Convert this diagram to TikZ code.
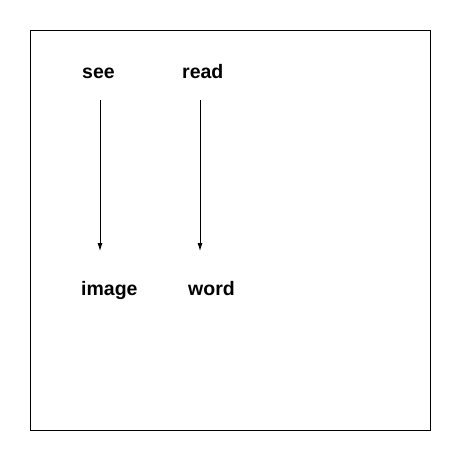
\documentclass[tikz,border=0pt]{standalone}
\usepackage{fontspec}
\setmainfont{Liberation Sans}
\usetikzlibrary{arrows.meta}
\begin{document}
\begin{tikzpicture}[x=1pt,y=-1pt,
  lbl/.style={anchor=base west,inner sep=0pt,font=\fontsize{19.5}{21}\selectfont\bfseries},
  conn/.style={draw,line width=0.8pt,-{Latex[length=8pt,width=5pt]}}]
\useasboundingbox (0,0) rectangle (460,460);
\draw[line width=1pt] (30.5,30.5) rectangle (430,430);
\node[lbl] (see) at (82,78) {see};
\node[lbl] (read) at (182,78) {read};
\node[lbl] (image) at (81,295) {image};
\node[lbl] (word) at (188,295) {word};
\coordinate (s1) at (100,100);
\coordinate (e1) at (100,251);
\coordinate (s2) at (200,100);
\coordinate (e2) at (200,251);
\draw[conn] (s1) -- (e1);
\draw[conn] (s2) -- (e2);
\end{tikzpicture}
\end{document}
